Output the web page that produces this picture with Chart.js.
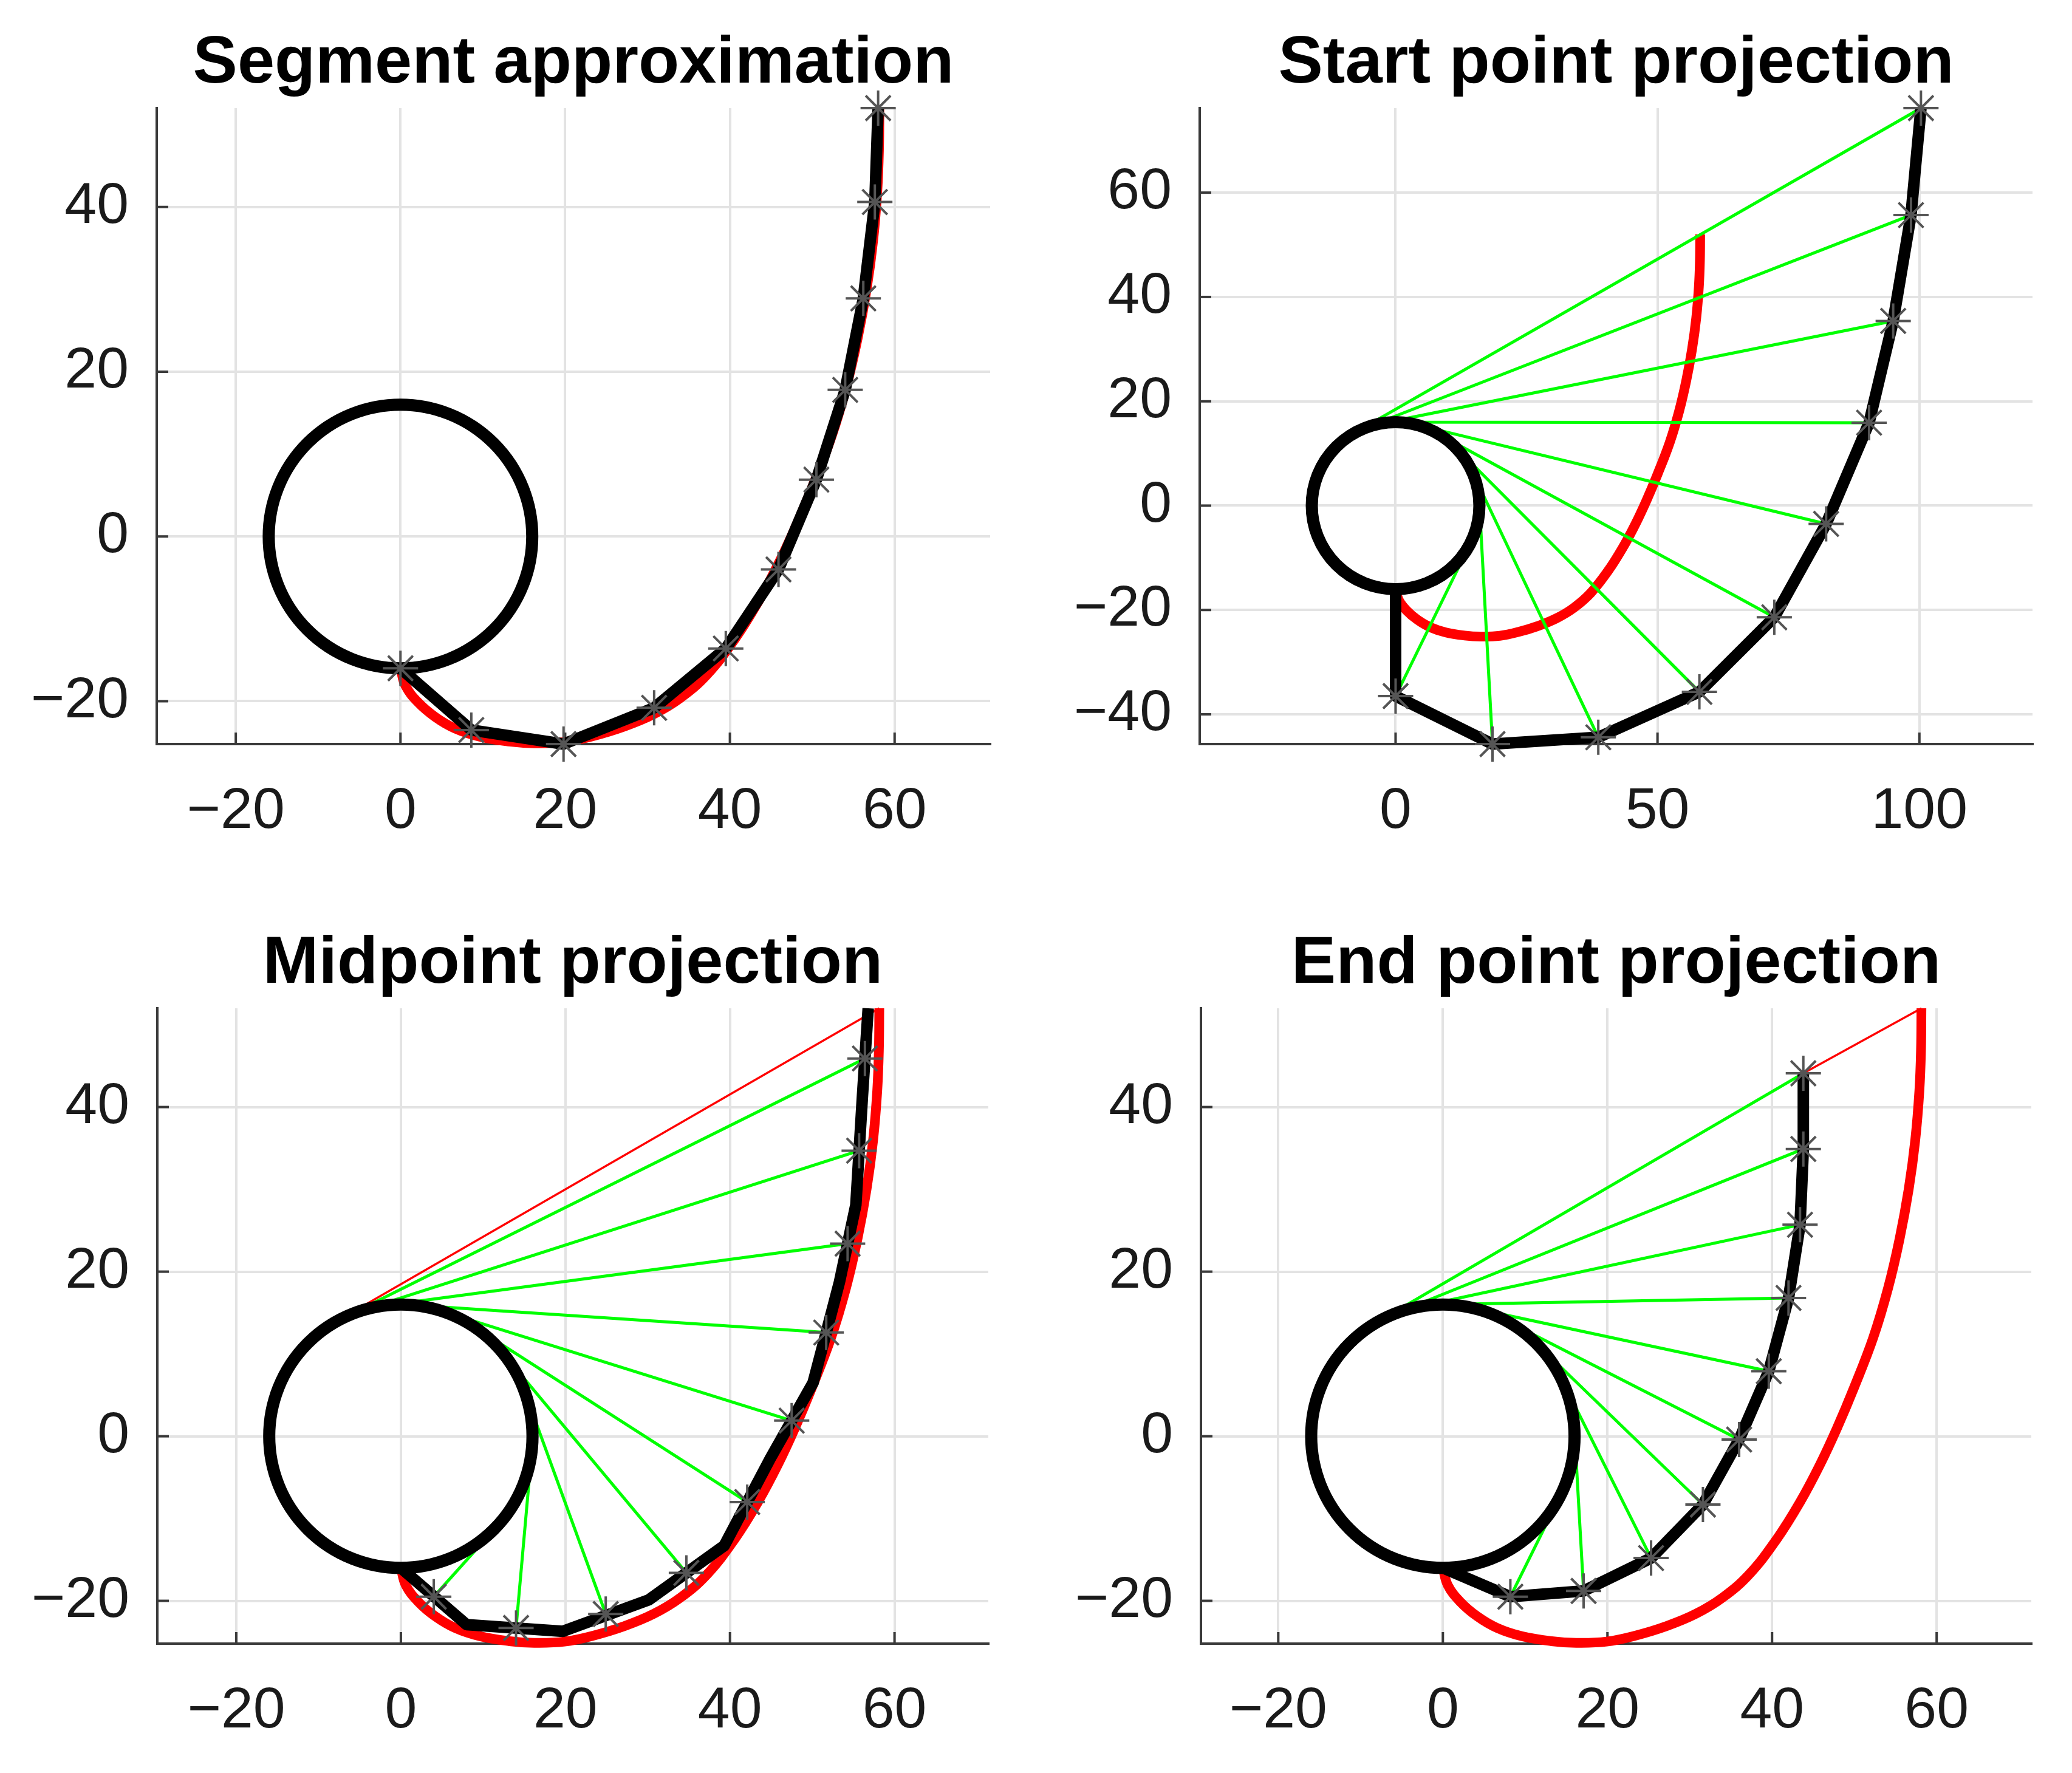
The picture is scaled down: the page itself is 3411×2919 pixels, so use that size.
<!DOCTYPE html>
<html>
<head>
<meta charset="utf-8">
<script src="https://cdn.jsdelivr.net/npm/chart.js@4.4.1/dist/chart.umd.min.js"></script>
<style>
  html, body { margin: 0; padding: 0; background: #fff; }
  #page { position: relative; width: 3411px; height: 2919px; }
  canvas { position: absolute; }
</style>
</head>
<body>
<div id="page">
  <canvas id="c1" width="1705" height="1459" style="left:0;top:0"></canvas>
  <canvas id="c2" width="1706" height="1459" style="left:1705px;top:0"></canvas>
  <canvas id="c3" width="1705" height="1460" style="left:0;top:1459px"></canvas>
  <canvas id="c4" width="1706" height="1460" style="left:1705px;top:1459px"></canvas>
</div>
<script>
const FONT = '"Liberation Sans", Arial, Helvetica, sans-serif';

// circle (centre and radius)
const circX = 0, circY = 0, circR = 16;

// red curve, the same in all four plots
const curveX = [0, 0.6, 2.1, 4.2, 6.6, 9.6, 13.2, 16.2, 19.9, 23.5, 27.1, 30.7, 34.0, 37.2, 40.5, 43.4, 45.8, 47.9, 50.0, 52.3, 54.1, 55.5, 56.6, 57.4, 57.9, 58.1, 58.15];
const curveY = [-16, -18.1, -20.1, -21.9, -23.3, -24.3, -24.9, -25.1, -24.95, -24.2, -23.1, -21.6, -19.6, -16.8, -12.6, -8.0, -3.5, 1.0, 6.0, 12.0, 18.0, 24.0, 30.0, 36.0, 42.0, 47.0, 52.0];

// thin red tangent from the curve end back to the circle
const tangentX = [-8.0, 58.15];
const tangentY = [13.86, 52.0];
// plot 4 only shows the part past the last star
const tailX = [43.8, 58.15];
const tailY = [44.1, 52.0];

// plot 1: segment approximation (every vertex has a star)
const segX = [0, 8.6, 19.8, 30.8, 39.5, 45.9, 50.5, 54.0, 56.2, 57.6, 58.0];
const segY = [-16, -23.5, -25.2, -20.8, -13.6, -4.0, 6.9, 17.8, 28.9, 40.6, 52.0];

// plot 2: start point projection
const startX = [0, 0, 18.5, 38.7, 58.0, 72.3, 82.2, 90.4, 95.0, 98.4, 100.3];
const startY = [-16, -36.5, -45.7, -44.4, -35.7, -21.4, -3.5, 15.9, 35.4, 55.7, 76.2];
const startTanX = [14.38, 15.98, 14.47, 11.35, 7.68, 3.76, 0.0, -3.14, -5.84, -8.0];
const startTanY = [-7.01, 0.87, 6.84, 11.28, 14.03, 15.55, 16.0, 15.69, 14.90, 13.86];

// plot 3: midpoint projection (stars sit on segment midpoints)
const midX = [0, 8.0, 19.7, 30.1, 39.3, 44.9, 50.1, 53.3, 55.3, 56.1, 56.8];
const midY = [-16, -22.9, -23.7, -19.9, -13.3, -2.7, 6.5, 18.7, 28.1, 41.3, 52.0];
const midStarX = [4.0, 14.0, 24.9, 34.7, 42.1, 47.5, 51.7, 54.3, 55.7, 56.4];
const midStarY = [-19.5, -23.3, -21.6, -16.6, -8.0, 1.9, 12.6, 23.4, 34.7, 45.9];
const midTanX = [11.91, 15.94, 15.03, 12.29, 8.65, 4.78, 1.06, -2.12, -4.89, -7.11];
const midTanY = [-10.69, -1.42, 5.50, 10.24, 13.46, 15.27, 15.96, 15.86, 15.23, 14.33];

// plot 4: end point projection
const endX = [0, 8.2, 17.1, 25.3, 31.6, 36.0, 39.6, 42.0, 43.4, 43.8, 43.8];
const endY = [-16, -19.5, -18.8, -14.8, -8.3, -0.4, 7.9, 16.8, 25.7, 34.9, 44.1];
const endTanX = [14.36, 15.98, 14.32, 11.07, 7.26, 3.35, -0.31, -3.35, -5.98, -8.07];
const endTanY = [-7.05, 0.89, 7.14, 11.55, 14.26, 15.65, 16.0, 15.65, 14.84, 13.82];

// titles, axis limits and tick steps
const titles = ['Segment approximation', 'Start point projection', 'Midpoint projection', 'End point projection'];
const xLimits = [[-29.6, 71.6], [-37.4, 121.6], [-29.6, 71.4], [-29.4, 71.5]];
const yLimits = [[-25.2, 52.0], [-45.7, 76.2], [-25.2, 52.0], [-25.2, 52.0]];
const xSteps = [20, 50, 20, 20];
const ySteps = [20, 20, 20, 20];

function toPoints(xs, ys) {
    return xs.map((x, i) => ({ x: x, y: ys[i] }));
}

// one dataset, each tangent line separated by a gap
function toSegments(fromX, fromY, toX, toY) {
    const pts = [];
    for (let i = 0; i < fromX.length; i++) {
        pts.push({ x: fromX[i], y: fromY[i] });
        pts.push({ x: toX[i], y: toY[i] });
        pts.push({ x: toX[i], y: null });
    }
    return pts;
}

function redCurve() {
    return { data: toPoints(curveX, curveY), showLine: true, borderColor: '#ff0000', borderWidth: 16,
             pointRadius: 0, tension: 0.4, order: 7, clip: false };
}

function thinRed(xs, ys) {
    return { data: toPoints(xs, ys), showLine: true, borderColor: '#ff0000', borderWidth: 3.5,
             pointRadius: 0, order: 6, clip: false };
}

function greenLines(fx, fy, tx, ty) {
    return { data: toSegments(fx, fy, tx, ty), showLine: true, borderColor: '#00ff00', borderWidth: 5,
             pointRadius: 0, spanGaps: false, order: 5, clip: false };
}

function blackPath(xs, ys) {
    return { data: toPoints(xs, ys), showLine: true, borderColor: '#000000', borderWidth: 19,
             borderJoinStyle: 'round', pointRadius: 0, order: 3, clip: false };
}

function stars(xs, ys) {
    return { data: toPoints(xs, ys), showLine: false, pointStyle: 'star', pointRadius: 29,
             borderColor: '#555555', borderWidth: 4, backgroundColor: 'rgba(0,0,0,0)', order: 1, clip: false };
}

// circle drawn right after the black path, under the stars
const circlePlugin = {
    id: 'circle',
    afterDatasetDraw(chart, args, opts) {
        if (args.index !== opts.after) return;
        const sx = chart.scales.x, sy = chart.scales.y;
        const cx = sx.getPixelForValue(circX), cy = sy.getPixelForValue(circY);
        const rx = sx.getPixelForValue(circX + circR) - cx;
        const ry = cy - sy.getPixelForValue(circY + circR);
        const ctx = chart.ctx;
        ctx.save();
        ctx.beginPath();
        ctx.ellipse(cx, cy, rx, ry, 0, 0, Math.PI * 2);
        ctx.lineWidth = 20;
        ctx.strokeStyle = '#000000';
        ctx.stroke();
        ctx.restore();
    }
};

// matlab style ticks pointing into the plot
const tickPlugin = {
    id: 'innerTicks',
    beforeDatasetsDraw(chart) {
        const a = chart.chartArea, ctx = chart.ctx;
        const sx = chart.scales.x, sy = chart.scales.y;
        ctx.save();
        ctx.strokeStyle = '#3a3a3a';
        ctx.lineWidth = 4;
        sx.ticks.forEach(t => {
            const p = sx.getPixelForValue(t.value);
            ctx.beginPath(); ctx.moveTo(p, a.bottom); ctx.lineTo(p, a.bottom - 19); ctx.stroke();
        });
        sy.ticks.forEach(t => {
            const p = sy.getPixelForValue(t.value);
            ctx.beginPath(); ctx.moveTo(a.left, p); ctx.lineTo(a.left + 19, p); ctx.stroke();
        });
        ctx.restore();
    }
};

function axis(lim, step, horizontal) {
    return {
        type: 'linear',
        position: horizontal ? 'bottom' : 'left',
        min: lim[0],
        max: lim[1],
        afterFit: s => { if (horizontal) s.height = 200; else s.width = 230; },
        grid: { color: '#e3e3e3', lineWidth: 4, drawTicks: false },
        border: { display: true, color: '#3a3a3a', width: 4 },
        ticks: {
            stepSize: step,
            includeBounds: false,
            autoSkip: false,
            maxRotation: 0,
            padding: horizontal ? 55 : 46,
            color: '#1a1a1a',
            font: { family: FONT, size: 95 },
            callback: v => String(v).replace('-', '\u2212')
        }
    };
}

function drawPanel(n, datasets, blackIndex, pad, titlePad) {
    new Chart(document.getElementById('c' + (n + 1)), {
        type: 'scatter',
        data: { datasets: datasets },
        plugins: [circlePlugin, tickPlugin],
        options: {
            responsive: false,
            animation: false,
            devicePixelRatio: 1,
            layout: { padding: pad },
            plugins: {
                legend: { display: false },
                tooltip: { enabled: false },
                title: {
                    display: true,
                    text: titles[n],
                    color: '#000000',
                    fullSize: false,
                    font: { family: FONT, size: 110, weight: 'bold' },
                    padding: titlePad
                },
                circle: { after: blackIndex }
            },
            scales: {
                x: axis(xLimits[n], xSteps[n], true),
                y: axis(yLimits[n], ySteps[n], false)
            }
        }
    });
}

drawPanel(0, [redCurve(), blackPath(segX, segY), stars(segX, segY)], 1,
    { left: 28, right: 75, top: 0, bottom: 34 }, { top: 40, bottom: 6 });

drawPanel(1, [redCurve(),
              greenLines(startTanX, startTanY, startX.slice(1), startY.slice(1)),
              blackPath(startX, startY),
              stars(startX.slice(1), startY.slice(1))], 2,
    { left: 40, right: 65, top: 0, bottom: 34 }, { top: 40, bottom: 6 });

drawPanel(2, [redCurve(), thinRed(tangentX, tangentY),
              greenLines(midTanX, midTanY, midStarX, midStarY),
              blackPath(midX, midY),
              stars(midStarX, midStarY)], 3,
    { left: 29, right: 78, top: 0, bottom: 13 }, { top: 63, bottom: 6 });

drawPanel(3, [redCurve(), thinRed(tailX, tailY),
              greenLines(endTanX, endTanY, endX.slice(1), endY.slice(1)),
              blackPath(endX, endY),
              stars(endX.slice(1), endY.slice(1))], 3,
    { left: 42, right: 67, top: 0, bottom: 13 }, { top: 63, bottom: 6 });
</script>
</body>
</html>
